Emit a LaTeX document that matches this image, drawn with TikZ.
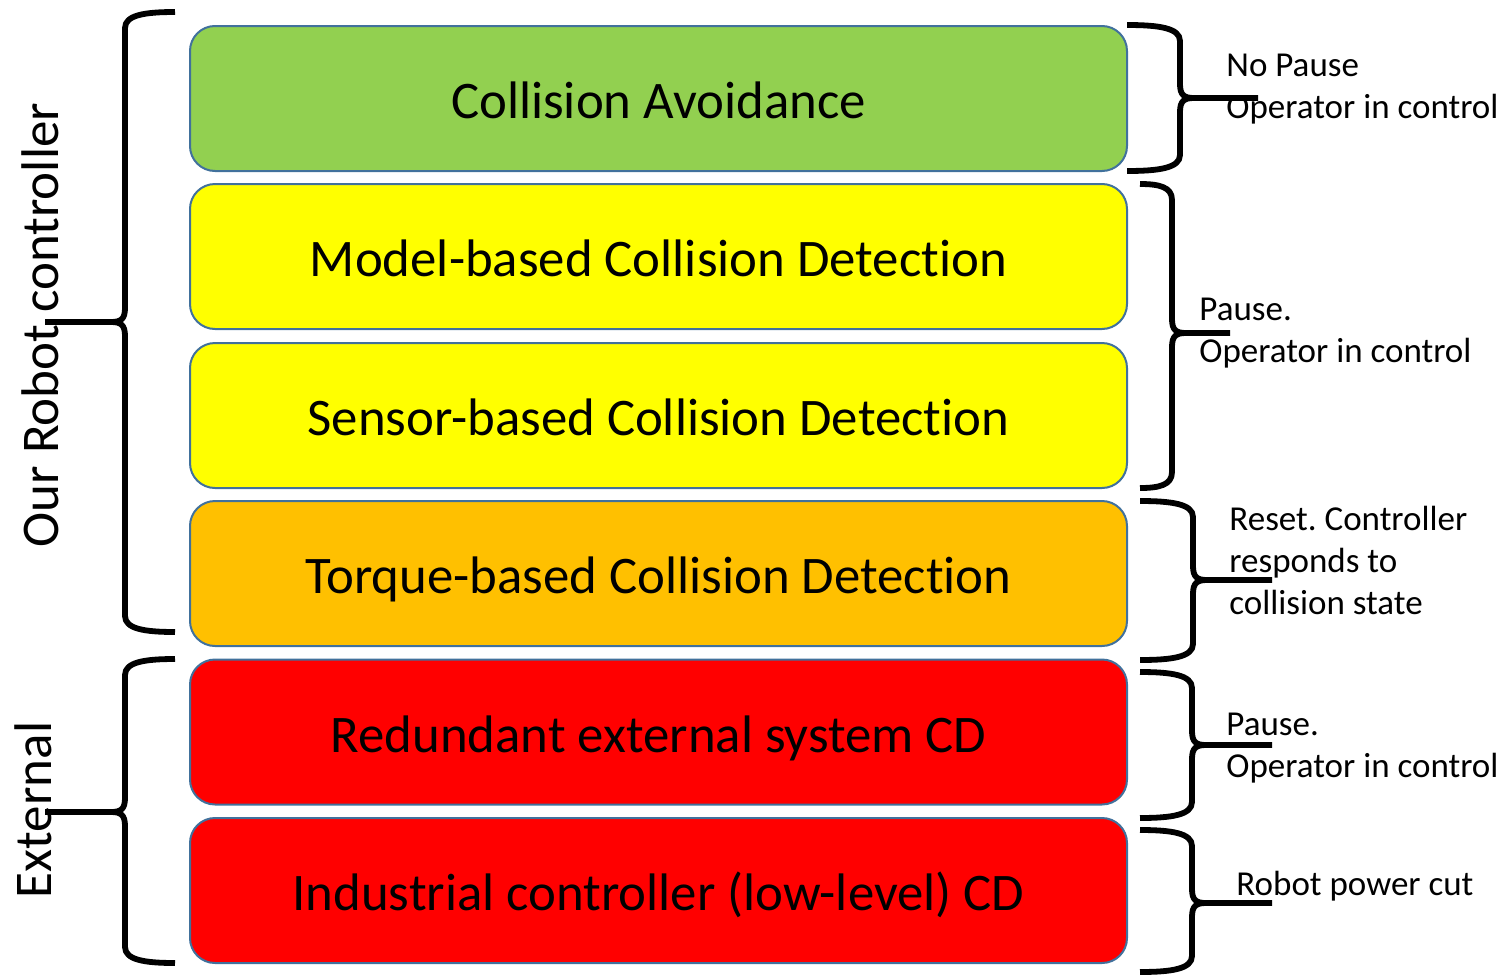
\documentclass[tikz,border=0pt]{standalone}
\usepackage{fontspec}
\setmainfont{Carlito}[RawFeature=-liga]
\usepackage{tikz}
\frenchspacing

\definecolor{layergreen}{HTML}{92D050}
\definecolor{layeryellow}{HTML}{FFFF00}
\definecolor{layerorange}{HTML}{FFC000}
\definecolor{layerred}{HTML}{FF0000}
\definecolor{layeredge}{HTML}{41719C}

\tikzset{
  layer/.style={draw=layeredge, line width=1pt, rounded corners=12.5pt,
    minimum width=468.5pt, minimum height=72.5pt, inner sep=0pt,
    text height=23.5pt, text depth=3.5pt,
    font=\fontsize{26.4}{30}\selectfont},
  brace line/.style={line width=2.9pt, line join=round},
  note/.style={anchor=west, align=left, inner sep=0pt,
    font=\fontsize{17.5}{21}\selectfont},
  side/.style={rotate=90, inner sep=0pt, font=\fontsize{26.5}{30}\selectfont}
}

% end x, spine x, tip x, top y, middle y, bottom y
\newcommand{\sidebrace}[6]{%
  \pgfmathsetmacro{\bs}{sign(#3-#2)}
  \draw[brace line] (#1,#4) .. controls ({#2+0.4*(#1-#2)},#4) and (#2,{#4+3}) .. (#2,{#4+16})
    -- (#2,{#5-14}) .. controls (#2,{#5-3}) and ({#2+4*\bs},#5) .. ({#2+14*\bs},#5)
    .. controls ({#2+4*\bs},#5) and (#2,{#5+3}) .. (#2,{#5+14})
    -- (#2,{#6-16}) .. controls (#2,{#6-3}) and ({#2+0.4*(#1-#2)},#6) .. (#1,#6)
    ({#2+14*\bs},#5) -- (#3,#5);
}

\begin{document}
\begin{tikzpicture}[x=0.5pt,y=-0.5pt]
  \useasboundingbox (0,0) rectangle (1505,975);

  % the six layers
  \node[layer, fill=layergreen]  (avoid)  at (658.5,98.5)  {Collision Avoidance};
  \node[layer, fill=layeryellow] (model)  at (658.5,256.5) {Model-based Collision Detection};
  \node[layer, fill=layeryellow] (sensor) at (658.5,415.5) {Sensor-based Collision Detection};
  \node[layer, fill=layerorange] (torque) at (658.5,573.5) {Torque-based Collision Detection};
  \node[layer, fill=layerred]    (redund) at (658.5,732)   {Redundant external system CD};
  \node[layer, fill=layerred]    (indust) at (658.5,890.5) {Industrial controller (low-level) CD};

  % left side
  \sidebrace{175}{125}{45}{12}{322}{632}
  \sidebrace{175}{125}{45}{659}{812}{963}
  \node[side] (ourctrl) at (40,325) {Our Robot controller};
  \node[side] (extern)  at (33,810) {External};

  % right side
  \sidebrace{1127}{1180}{1258}{25}{98}{171}
  \sidebrace{1140}{1172}{1230}{184}{333}{488}
  \sidebrace{1140}{1193}{1272}{501}{580}{660}
  \sidebrace{1140}{1192}{1272}{672}{745}{818}
  \sidebrace{1140}{1192}{1272}{830}{903}{972}

  \node[note] (nopause) at (1226,89)  {No Pause\\Operator in control};
  \node[note] (pause)   at (1199,333) {Pause.\\Operator in control};
  \node[note] (reset)   at (1229,560) {Reset. Controller\\responds to\\collision state};
  \node[note] (pauseb)  at (1226,748) {Pause.\\Operator in control};
  \node[note] (power)   at (1236,886) {Robot power cut};
\end{tikzpicture}
\end{document}
